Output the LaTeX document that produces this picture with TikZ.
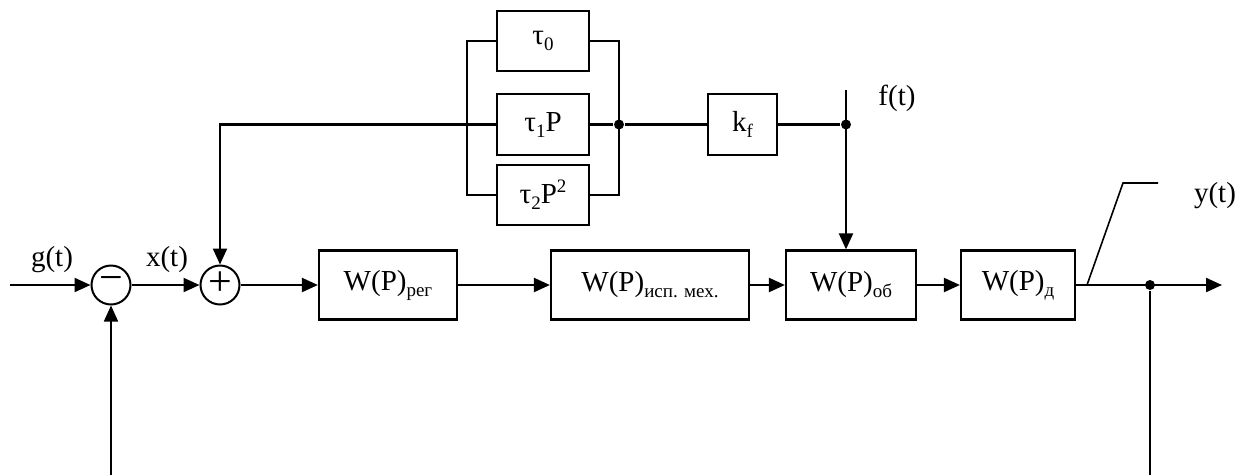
\documentclass[tikz,border=0pt]{standalone}
\usepackage{fontspec}
\setmainfont{Liberation Serif}
\usetikzlibrary{arrows.meta}
\newcommand\sub[1]{\raisebox{-6pt}{\fontsize{19}{20}\selectfont #1}}
\newcommand\supr[1]{\raisebox{11pt}{\fontsize{19}{20}\selectfont #1}}
\begin{document}
\begin{tikzpicture}[x=1pt,y=-1pt,
  font=\fontsize{29}{32}\selectfont,
  every path/.style={line width=2.2pt},
  blk/.style={draw, line width=2.2pt, inner sep=0pt, minimum height=69pt},
  tblk/.style={draw, line width=2.2pt, inner sep=0pt, minimum width=92pt, minimum height=60pt},
  sumnode/.style={draw, circle, line width=2pt, inner sep=0pt, minimum size=39pt},
  dot/.style={circle, fill=black, inner sep=0pt, minimum size=10pt},
  lbl/.style={inner sep=0pt},
  arr/.style={-{Triangle[length=16pt,width=14pt]}}]
\useasboundingbox (0,0) rectangle (1254,475);

% summing junctions
\node[sumnode] (s1) at (111,285) {\fontsize{42}{44}\selectfont\raisebox{2pt}{−}};
\node[sumnode] (s2) at (220,285) {\fontsize{42}{44}\selectfont\raisebox{2pt}{+}};

% forward path blocks
\node[blk, minimum width=138pt] (reg)  at (388,285) {W(P)\sub{рег}};
\node[blk, minimum width=198pt] (mech) at (650,285) {W(P)\sub{исп. мех.}};
\node[blk, minimum width=130pt] (ob)   at (851,285) {W(P)\sub{об}};
\node[blk, minimum width=114pt] (dr)   at (1018,285) {W(P)\sub{д}};

% disturbance compensation blocks
\node[tblk] (t0) at (543,41) {τ\sub{0}};
\node[tblk, minimum height=61pt] (t1) at (543,124.5) {τ\sub{1}P};
\node[tblk] (t2) at (543,195) {τ\sub{2}P\supr{2}};
\node[draw, line width=2.2pt, inner sep=0pt, minimum width=69pt, minimum height=61pt] (kf) at (742.5,124.5) {k\sub{f}};

% branch points
\coordinate (bl) at (467,0);
\coordinate (br) at (619,0);
\node[dot] (d1) at (br |- t1) {};
\node[dot] (d2) at (846,124.5) {};
\node[dot] (d3) at (1150,285) {};

% free ends
\coordinate (in)   at (10,285);
\coordinate (out)  at (1222,285);
\coordinate (ftop) at (846,90);
\coordinate (fb1)  at (111,475);
\coordinate (fb2)  at (1150,475);
\coordinate (sl1)  at (1087,285);
\coordinate (sl2)  at (1123,183);
\coordinate (sl3)  at (1158,183);

% signal labels
\node[lbl] (g) at (52,260) {g(t)};
\node[lbl] (x) at (167,260) {x(t)};
\node[lbl] (f) at (897,98) {f(t)};
\node[lbl] (y) at (1215,196) {y(t)};

% forward path
\draw[arr] (in) -- (s1);
\draw[arr] (s1) -- (s2);
\draw[arr] (s2) -- (reg);
\draw[arr] (reg) -- (mech);
\draw[arr] (mech) -- (ob);
\draw[arr] (ob) -- (dr);
\draw[arr] (dr) -- (out);

% main feedback
\draw[arr, line width=1.8pt] (fb1) -- (s1.south);
\draw[line width=1.8pt] (d3) -- (fb2);

% output marker
\draw[line width=1.6pt] (sl1) -- (sl2) -- (sl3);

% parallel branches
\draw (t0.west) -- (t0.west -| bl) -- (t2.west -| bl) -- (t2.west);
\draw (t0.east) -- (t0.east -| br) -- (t2.east -| br) -- (t2.east);
\draw (t1.east) -- (d1) -- (kf.west);
\draw (kf.east) -- (d2);
\draw[arr] (t1.west) -| (s2.north);

% disturbance input
\draw[arr] (ftop) -- (ftop |- ob.north);
\end{tikzpicture}
\end{document}
